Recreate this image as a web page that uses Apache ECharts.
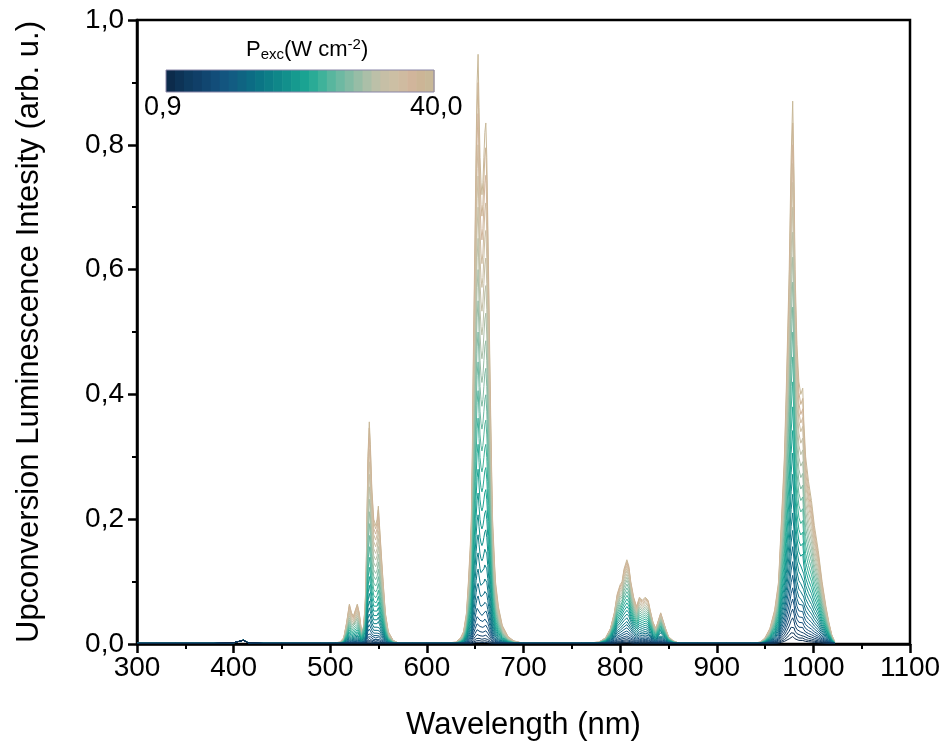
<!DOCTYPE html>
<html>
<head>
<meta charset="utf-8">
<script src="https://cdn.jsdelivr.net/npm/echarts@6.0.0/dist/echarts.min.js"></script>
<style>
  html, body { margin: 0; padding: 0; background: #fff; }
  #chart { width: 949px; height: 751px; }
</style>
</head>
<body>
<div id="chart"></div>
<script>
// -------------------
// Data
// -------------------
// wavelength grid (nm) and the outermost (40 W cm-2) spectrum
const wavelengths = [
  300, 320, 340, 360, 380, 400, 405, 410, 415, 430, 450, 470, 490, 505,
  510, 514, 517, 519.8, 522, 524, 528, 530, 532, 534, 536, 537, 538, 539, 540.4, 541.5, 543, 545, 547, 548.5, 549.8, 551, 553, 554.7, 557, 560, 565, 570,
  585, 600, 615, 630,
  635, 638, 641, 643, 645, 646, 647, 648, 650, 651, 652, 653, 654, 655, 656, 657, 658, 659, 660, 661, 662, 663, 664, 665, 666, 667, 668, 670, 671, 674, 678, 684, 690,
  700, 730, 760, 778,
  785, 790, 794, 797, 800, 802, 804, 807, 809, 811, 814, 817, 820, 823, 826, 829, 831, 834, 837, 840, 842, 844, 847, 850, 855, 860,
  880, 910, 935, 945,
  950, 955, 960, 964, 967, 970, 972, 975, 977, 978.6, 980, 981, 983, 985, 987, 989, 990, 992, 995, 998, 1001, 1005, 1009, 1013, 1016, 1019, 1022
]
const topSpectrum = [
  0.001, 0.001, 0.001, 0.001, 0.001, 0.002, 0.004, 0.006, 0.002, 0.001, 0.001, 0.001, 0.001, 0.002,
  0.003, 0.01, 0.035, 0.064, 0.05, 0.045, 0.064, 0.05, 0.025, 0.02, 0.06, 0.1, 0.2, 0.3, 0.356, 0.32, 0.25, 0.2, 0.19, 0.2, 0.221, 0.19, 0.14, 0.1, 0.05, 0.02, 0.006, 0.002,
  0.001, 0.001, 0.001, 0.003,
  0.01, 0.02, 0.05, 0.1, 0.16, 0.2, 0.3, 0.45, 0.68, 0.8, 0.9, 0.945, 0.86, 0.78, 0.74, 0.72, 0.74, 0.78, 0.82, 0.835, 0.78, 0.68, 0.58, 0.47, 0.37, 0.28, 0.2, 0.13, 0.1, 0.06, 0.03, 0.012, 0.005,
  0.001, 0.001, 0.001, 0.003,
  0.01, 0.025, 0.05, 0.08, 0.095, 0.1, 0.12, 0.135, 0.125, 0.1, 0.075, 0.06, 0.075, 0.07, 0.075, 0.07, 0.055, 0.035, 0.025, 0.04, 0.05, 0.04, 0.025, 0.012, 0.005, 0.002,
  0.001, 0.001, 0.001, 0.003,
  0.01, 0.025, 0.055, 0.1, 0.2, 0.3, 0.41, 0.6, 0.78, 0.87, 0.75, 0.6, 0.48, 0.42, 0.4, 0.41, 0.36, 0.3, 0.26, 0.23, 0.19, 0.15, 0.1, 0.06, 0.035, 0.015, 0.004
]

// excitation power density of each spectrum (W cm-2)
const powers = [0.9, 1.2, 1.5, 1.9, 2.3, 2.8, 3.3, 3.9, 4.6, 5.4, 6.3, 7.3, 8.4, 9.6, 11.0,
                12.5, 14.1, 15.8, 17.6, 19.5, 21.5, 23.6, 25.8, 28.0, 30.2, 32.4, 34.6, 36.6, 38.4, 40.0]

// peak height of each band, one per spectrum
const greenPeaks = [0.001, 0.002, 0.004, 0.006, 0.009, 0.013, 0.018, 0.024, 0.031, 0.039, 0.048, 0.058, 0.069, 0.081, 0.094,
                    0.108, 0.123, 0.139, 0.156, 0.174, 0.193, 0.212, 0.232, 0.252, 0.272, 0.292, 0.312, 0.330, 0.346, 0.356]
const redPeaks = [0.003, 0.006, 0.010, 0.016, 0.024, 0.034, 0.046, 0.060, 0.077, 0.097, 0.120, 0.146, 0.175, 0.207, 0.242,
                  0.280, 0.320, 0.362, 0.406, 0.452, 0.500, 0.550, 0.600, 0.650, 0.700, 0.750, 0.800, 0.850, 0.900, 0.945]
const nir800Peaks = [0.002, 0.003, 0.005, 0.007, 0.010, 0.013, 0.017, 0.021, 0.026, 0.031, 0.036, 0.042, 0.048, 0.054, 0.060,
                     0.066, 0.072, 0.078, 0.084, 0.090, 0.096, 0.102, 0.107, 0.112, 0.117, 0.121, 0.125, 0.129, 0.132, 0.135]
const nir980Peaks = [0.012, 0.020, 0.030, 0.042, 0.056, 0.072, 0.090, 0.110, 0.132, 0.156, 0.182, 0.210, 0.240, 0.272, 0.306,
                     0.342, 0.380, 0.420, 0.460, 0.500, 0.540, 0.580, 0.620, 0.660, 0.700, 0.740, 0.770, 0.800, 0.835, 0.870]

// colour of each spectrum, low to high power
const palette = [
  '#0c2b4b', '#0d3356', '#0e3b60', '#103f68', '#114670', '#124d79', '#13557f', '#125c82', '#0f6482', '#0c6c84',
  '#0b7585', '#0d7e87', '#0f8789', '#12908c', '#169a8f', '#1aa392', '#2aab96', '#3fb29a', '#58b69e', '#6db9a2',
  '#82bba4', '#97bda6', '#abbfa8', '#bcc0a8', '#c6bfa6', '#ccbfa4', '#cfbba0', '#d1b59b', '#ccb596', '#c8b898'
]

const xTicks = [300, 400, 500, 600, 700, 800, 900, 1000, 1100]

// -------------------
// Build series
// -------------------
function bandPeaks(w){
  if (w >= 505 && w <= 575) return greenPeaks
  if (w >= 630 && w <= 695) return redPeaks
  if (w >= 775 && w <= 865) return nir800Peaks
  if (w >= 940 && w <= 1025) return nir980Peaks
  return null
}

const last = powers.length - 1
const series = []
// high power first, so the dark low-power lines stay visible at the bottom
for (let k = last; k >= 0; k--) {
  const data = wavelengths.map((w, i) => {
    const peaks = bandPeaks(w)
    const v = peaks ? topSpectrum[i] * peaks[k] / peaks[last] : topSpectrum[i]
    return [w, Math.max(v, 0.001)]
  })
  series.push({
    name: powers[k].toFixed(1),
    type: 'line',
    data: data,
    symbol: 'none',
    silent: true,
    lineStyle: { color: palette[k], width: 1 },
    z: 2
  })
}

// colour bar from the palette
const barX = 166, barY = 70, barW = 268, barH = 22
const barCells = palette.map((c, i) => ({
  type: 'rect',
  shape: { x: barX + i * barW / palette.length, y: barY, width: barW / palette.length + 0.6, height: barH },
  style: { fill: c },
  silent: true
}))

const font = 'Liberation Sans, Arial, sans-serif'
const chart = echarts.init(document.getElementById('chart'), null, { renderer: 'canvas' })

chart.setOption({
  animation: false,
  backgroundColor: '#fff',
  grid: { left: 137, right: 39, top: 20, bottom: 107, show: true, borderColor: '#000', borderWidth: 2.5, backgroundColor: 'transparent' },
  xAxis: {
    type: 'value', min: 300, max: 1100, interval: 100,
    name: 'Wavelength (nm)', nameLocation: 'middle', nameGap: 66,
    nameTextStyle: { fontFamily: font, fontSize: 31, color: '#000' },
    axisLine: { show: true, onZero: false, lineStyle: { color: '#000', width: 2.5 } },
    axisTick: { show: true, inside: false, length: 9, lineStyle: { color: '#000', width: 2.5 } },
    minorTick: { show: true, splitNumber: 2, length: 5, lineStyle: { color: '#000', width: 2 } },
    axisLabel: { fontFamily: font, fontSize: 28, color: '#000', margin: 10,
      formatter: v => xTicks.includes(v) ? String(v) : '' },
    splitLine: { show: false }
  },
  yAxis: {
    type: 'value', min: 0, max: 1, interval: 0.2,
    name: 'Upconversion Luminescence Intesity (arb. u.)', nameLocation: 'middle', nameGap: 92,
    nameTextStyle: { fontFamily: font, fontSize: 31, color: '#000' },
    axisLine: { show: true, onZero: false, lineStyle: { color: '#000', width: 2.5 } },
    axisTick: { show: true, inside: false, length: 9, lineStyle: { color: '#000', width: 2.5 } },
    minorTick: { show: true, splitNumber: 2, length: 5, lineStyle: { color: '#000', width: 2 } },
    axisLabel: { fontFamily: font, fontSize: 28, color: '#000', margin: 13,
      formatter: v => v.toFixed(1).replace('.', ',') },
    splitLine: { show: false }
  },
  series: series,
  graphic: [
    ...barCells,
    {
      type: 'rect',
      shape: { x: barX, y: barY, width: barW, height: barH },
      style: { fill: 'none', stroke: '#8a86a8', lineWidth: 1 },
      silent: true
    },
    {
      type: 'text', left: 246, top: 37,
      style: {
        text: 'P{sub|exc}(W cm{sup|-2})',
        fontFamily: font, fontSize: 22, fill: '#000',
        rich: {
          sub: { fontFamily: font, fontSize: 15, fill: '#000', verticalAlign: 'bottom', padding: [10, 0, 0, 0] },
          sup: { fontFamily: font, fontSize: 15, fill: '#000', verticalAlign: 'top', padding: [0, 0, 10, 0] }
        }
      }
    },
    { type: 'text', left: 144, top: 94, style: { text: '0,9', fontFamily: font, fontSize: 27, fill: '#000' } },
    { type: 'text', left: 410, top: 94, style: { text: '40,0', fontFamily: font, fontSize: 27, fill: '#000' } }
  ]
})
</script>
</body>
</html>
